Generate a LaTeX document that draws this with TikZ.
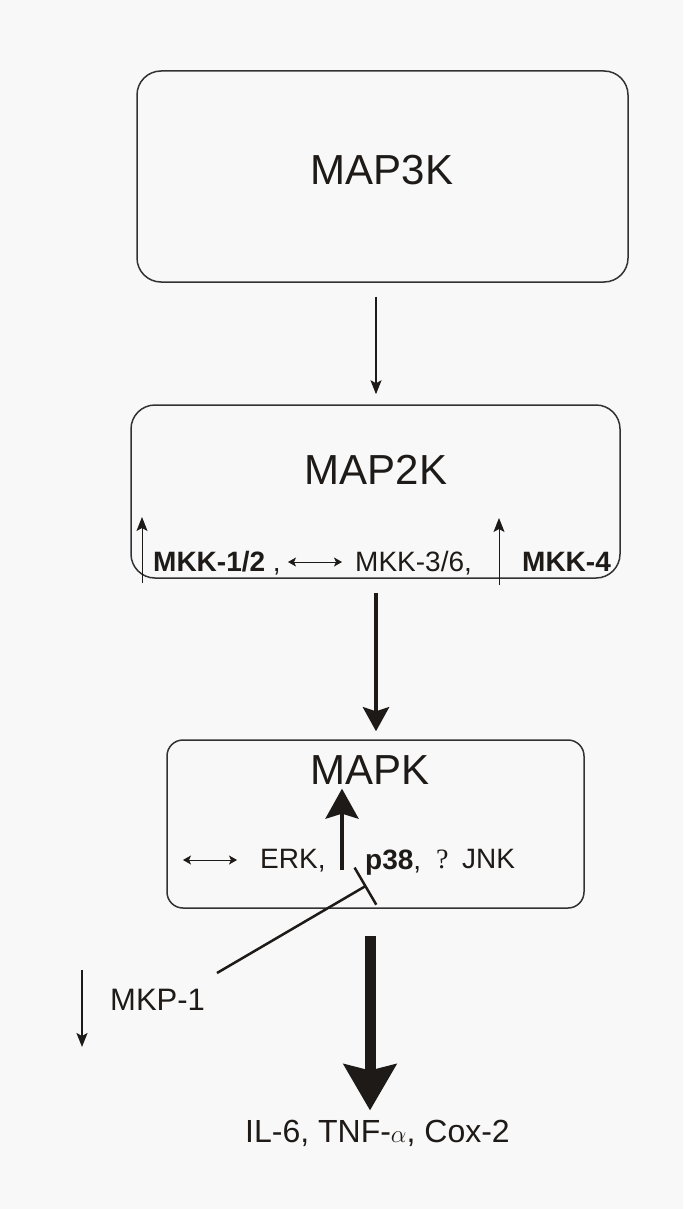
\documentclass[tikz,border=0pt]{standalone}
\usepackage{fontspec}
\setmainfont{Liberation Sans}
\newfontfamily\serifq{Liberation Serif}
\usetikzlibrary{arrows.meta}
\definecolor{bgc}{RGB}{248,248,248}
\definecolor{ink}{RGB}{30,26,24}
\definecolor{boxline}{RGB}{50,50,50}
\newcommand\MyBig{\fontsize{42pt}{50pt}\selectfont}
\newcommand\MyMid{\fontsize{28pt}{34pt}\selectfont}
\newcommand\MyLab{\fontsize{31pt}{37pt}\selectfont}
\newcommand\MyOut{\fontsize{32pt}{38pt}\selectfont}
\begin{document}
\begin{tikzpicture}[x=1pt,y=-1pt,
  box/.style={draw=boxline,line width=1.5pt,fill=bgc,rounded corners=24pt,inner sep=0pt},
  title/.style={inner sep=0pt,text=ink,font=\MyBig},
  lab/.style={inner sep=0pt,anchor=base west,text=ink,font=\MyMid},
  thinarrow/.style={draw=ink,line width=1.2pt,-{Stealth[length=14pt,width=11pt,inset=3pt]}},
  dblarrow/.style={draw=ink,line width=0.8pt,{Stealth[length=8pt,width=9pt,inset=2pt]}-{Stealth[length=8pt,width=9pt,inset=2pt]}},
  midarrow/.style={draw=ink,line width=4.5pt,-{Stealth[length=24pt,width=26pt,inset=4pt]}},
  p38arrow/.style={draw=ink,line width=4pt,-{Stealth[length=30pt,width=33pt,inset=5pt]}},
  bigarrow/.style={draw=ink,line width=11pt,-{Stealth[length=46pt,width=52pt,inset=6pt]}},
  inhib/.style={draw=ink,line width=2.5pt,-{Bar[width=43pt,line width=2.5pt]}}
]
\fill[bgc] (0,0) rectangle (683,1209);
\useasboundingbox (0,0) rectangle (683,1209);

% boxes
\node[box,minimum width=491pt,minimum height=211pt] (map3k) at (382.5,176.5) {};
\node[box,minimum width=489pt,minimum height=173pt] (map2k) at (375.5,491.5) {};
\node[box,rounded corners=16pt,minimum width=417pt,minimum height=168pt] (mapk) at (375.5,824) {};

% titles
\node[title] (map3kt) at (382,170) {MAP3K};
\node[title] (map2kt) at (376,470) {MAP2K};
\node[title] (mapkt) at (370,770) {MAPK};

% MAP2K row
\node[lab] (mkk12) at (153,571) {\textbf{MKK-1/2} ,};
\node[lab] (mkk36) at (355,571) {MKK-3/6,};
\node[lab] (mkk4) at (522,571) {\textbf{MKK-4}};
\draw[thinarrow,line width=0.9pt] (142,583) -- (142,517);
\draw[thinarrow,line width=0.9pt] (499,585) -- (499,518);
\draw[dblarrow] (288,562) -- (342,562);

% MAPK row
\node[lab] (erk) at (260,868) {ERK,};
\node[lab] (p38) at (365,869) {\textbf{p38},};
\node[lab,font=\MyMid\serifq] (q) at (436,868) {?};
\node[lab] (jnk) at (462,868) {JNK};
\draw[dblarrow] (183,860) -- (237,860);
\draw[p38arrow] (342,870) -- ([yshift=-4pt]mapkt.south -| 342,0);

% MKP-1
\node[inner sep=0pt,anchor=base west,text=ink,font=\MyLab] (mkp) at (110,1010) {MKP-1};
\draw[thinarrow,line width=1.6pt] (82,970) -- (82,1047);
\coordinate (inhs) at (217,973);
\coordinate (inhe) at (366.5,885.5);
\draw[inhib] (inhs) -- (inhe);

% output
\node[inner sep=0pt,anchor=base west,text=ink,font=\MyOut] (out) at (245,1142) {IL-6, TNF-$\alpha$, Cox-2};

% connectors
\draw[thinarrow] ([yshift=-14pt]map3k.south -| map2kt) -- ([yshift=10pt]map2k.north -| map2kt);
\draw[midarrow] ([yshift=-14pt]map2k.south -| map2kt) -- ([yshift=8pt]mapk.north -| map2kt);
\draw[bigarrow] ([yshift=-27pt]mapk.south -| 370,0) -- ([yshift=9pt]out.north -| 370,0);
\end{tikzpicture}
\end{document}
